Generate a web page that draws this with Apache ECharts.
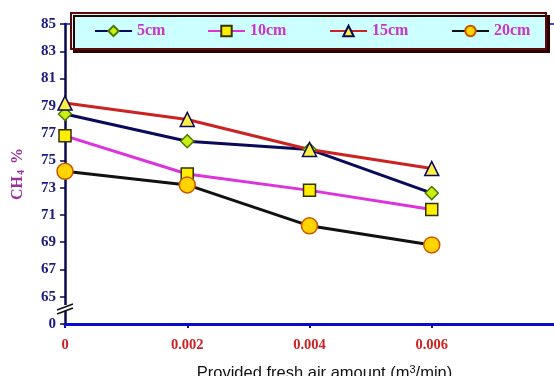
<!DOCTYPE html>
<html><head><meta charset="utf-8">
<script src="https://cdn.jsdelivr.net/npm/echarts@6/dist/echarts.min.js"></script>
<style>html,body{margin:0;padding:0;background:#fff}#c{width:554px;height:376px}</style>
</head><body><div id="c"></div>
<script>
const airAmount = [0, 0.002, 0.004, 0.006];
const xTickLabels = ['0', '0.002', '0.004', '0.006'];
const ch4_5cm  = [78.4, 76.4, 75.8, 72.6];
const ch4_10cm = [76.8, 74.0, 72.8, 71.4];
const ch4_15cm = [79.2, 78.0, 75.8, 74.4];
const ch4_20cm = [74.2, 73.2, 70.2, 68.8];
const seriesNames = ['5cm', '10cm', '15cm', '20cm'];
// broken axis: the bottom "0" label sits at value 63
const yTickValues = [63, 65, 67, 69, 71, 73, 75, 77, 79, 81, 83, 85];
const yTickLabels = ['0', '65', '67', '69', '71', '73', '75', '77', '79', '81', '83', '85'];

const chart = echarts.init(document.getElementById('c'));
const serif = '"Liberation Serif", "DejaVu Serif", serif';
const sans = '"Liberation Sans", Arial, sans-serif';
function mk(name, data, lineColor, symbol, size, fill, border) {
  return {
    name, type: 'line', data: airAmount.map((x, i) => [x, data[i]]),
    symbol, symbolSize: size, showSymbol: true,
    lineStyle: { color: lineColor, width: 3 },
    itemStyle: { color: fill, borderColor: border, borderWidth: 1.5 },
    z: 3
  };
}
const legendLefts = [94, 207, 329, 451];
const legends = seriesNames.map((n, i) => ({
  left: legendLefts[i], top: 23, padding: 0, z: 10,
  itemWidth: 37, itemHeight: 13,
  textStyle: { color: '#cc33cc', fontFamily: serif, fontWeight: 'bold', fontSize: 16 },
  data: [n]
}));
chart.setOption({
  animation: false,
  grid: { left: 65, right: 0, top: 24, bottom: 52, outerBoundsMode: 'none', containLabel: false },
  legend: legends,
  xAxis: [{
    type: 'value', min: 0, max: 0.008,
    axisLine: { lineStyle: { color: '#0a0acc', width: 3 } },
    axisTick: { show: true, length: 4, lineStyle: { color: '#0a0acc', width: 2 }, customValues: airAmount },
    splitLine: { show: false },
    axisLabel: {
      customValues: airAmount,
      formatter: (v) => xTickLabels[airAmount.findIndex(a => Math.abs(a - v) < 1e-9)] || '',
      color: '#cc2222', fontFamily: serif, fontWeight: 'bold', fontSize: 14.5, margin: 14
    },
    name: 'Provided fresh air amount (m{sup|3}/min)',
    nameLocation: 'middle', nameGap: 40,
    nameTextStyle: {
      color: '#111', fontFamily: sans, fontSize: 16.5, padding: [0, 0, 0, 30],
      rich: { sup: { fontSize: 11, verticalAlign: 'top', padding: [0, 0, 8, 0], fontFamily: sans, color: '#111' } }
    }
  }, {
    type: 'value', position: 'top', min: 0, max: 0.008,
    axisLine: { show: true, lineStyle: { color: '#0a0acc', width: 1.5 } },
    axisTick: { show: false }, axisLabel: { show: false }, splitLine: { show: false }
  }],
  yAxis: {
    type: 'value', min: 63, max: 85, interval: 1,
    axisLine: { show: true, lineStyle: { color: '#0a0a4a', width: 2.5 } },
    axisTick: { show: true, length: 5, customValues: yTickValues, lineStyle: { color: '#0a0a4a', width: 1.5 } },
    splitLine: { show: false },
    axisLabel: {
      customValues: yTickValues,
      formatter: (v) => yTickLabels[yTickValues.indexOf(Math.round(v))] || '',
      color: '#1a1a80', fontFamily: serif, fontWeight: 'bold', fontSize: 15, margin: 9
    },
    name: 'CH{sub|4} %', nameLocation: 'middle', nameGap: 39, nameRotate: 90,
    nameTextStyle: {
      color: '#993399', fontFamily: serif, fontWeight: 'bold', fontSize: 16,
      rich: { sub: { fontSize: 10, verticalAlign: 'bottom', padding: [6, 2, 0, 1], fontFamily: serif, fontWeight: 'bold', color: '#993399' } }
    }
  },
  series: [
    mk('5cm', ch4_5cm, '#0a0a5a', 'diamond', 13, '#ccee11', '#4a7a00'),
    mk('10cm', ch4_10cm, '#dd33dd', 'rect', 12, '#ffee00', '#333300'),
    mk('15cm', ch4_15cm, '#cc2222', 'triangle', 14, '#ffee44', '#0a0a5a'),
    mk('20cm', ch4_20cm, '#111111', 'circle', 16, '#ffd400', '#cc5500')
  ]
});
// legend frame, and axis-break marks on the y axis placed through the chart's own scale
const p = chart.convertToPixel({ gridIndex: 0 }, [0, 64.1]);
const bx = p[0], by = p[1];
chart.setOption({
  graphic: [
    {
      type: 'rect', z: 8,
      shape: { x: 71, y: 13, width: 475, height: 36 },
      style: {
        fill: '#ccffff', stroke: '#5a0a0a', lineWidth: 2,
        shadowColor: '#2a0000', shadowOffsetX: 3, shadowOffsetY: 3, shadowBlur: 0
      }
    },
    { type: 'rect', shape: { x: bx - 4, y: by - 4, width: 8, height: 6 }, style: { fill: '#fff' }, z: 100 },
    { type: 'line', shape: { x1: bx - 8, y1: by + 1, x2: bx + 8, y2: by - 5 }, style: { stroke: '#111', lineWidth: 1.5 }, z: 101 },
    { type: 'line', shape: { x1: bx - 8, y1: by + 5, x2: bx + 8, y2: by - 1 }, style: { stroke: '#111', lineWidth: 1.5 }, z: 101 }
  ]
});
</script></body></html>
